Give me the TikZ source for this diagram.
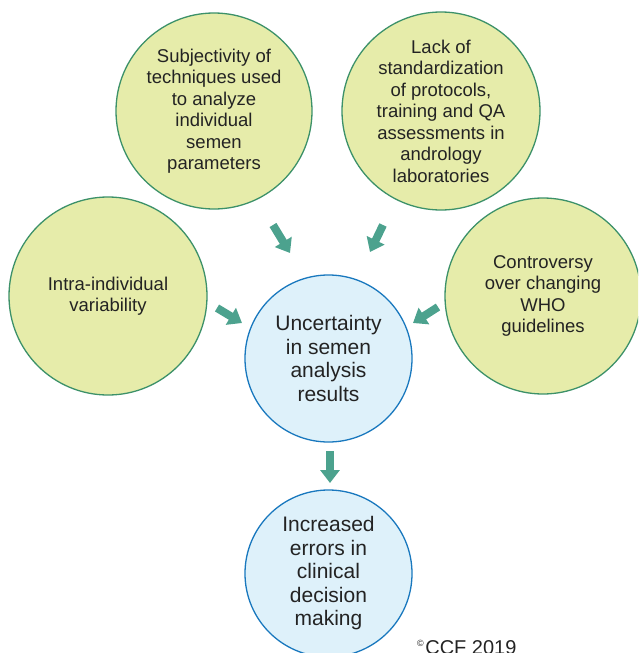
\documentclass[tikz,border=0pt]{standalone}
\usepackage{fontspec}
\setmainfont{Liberation Sans}
\usetikzlibrary{arrows.meta}
\definecolor{gfill}{RGB}{230,236,170}
\definecolor{gline}{RGB}{60,145,105}
\definecolor{bfill}{RGB}{222,241,250}
\definecolor{bline}{RGB}{25,120,190}
\definecolor{arrcol}{RGB}{76,162,142}
\definecolor{txt}{RGB}{35,35,35}
\begin{document}
\begin{tikzpicture}[x=1pt,y=-1pt,
  gcirc/.style={circle, draw=gline, fill=gfill, line width=1.3pt, inner sep=0pt,
    minimum size=#1, align=center, text=txt, font=\fontsize{18.5}{21.5}\selectfont},
  bcirc/.style={circle, draw=bline, fill=bfill, line width=1.3pt, inner sep=0pt,
    minimum size=#1, align=center, text=txt, font=\fontsize{21}{23.5}\selectfont},
  fatarrow/.style={draw=arrcol, line width=8pt, -{Triangle[length=13pt,width=19pt,fill=arrcol]}}]
\useasboundingbox (0,0) rectangle (638,653);
\clip (0,0) rectangle (638,653);
\node[gcirc=196] (c1) at (214,111) {Subjectivity of\\techniques used\\to analyze\\individual\\semen\\parameters};
\node[gcirc=198] (c2) at (441,111) {Lack of\\standardization\\of protocols,\\training and QA\\assessments in\\andrology\\laboratories};
\node[gcirc=198] (c3) at (108,296) {Intra-individual\\variability};
\node[gcirc=196] (c4) at (543,296) {Controversy\\over changing\\WHO\\guidelines};
\node[bcirc=167] (c5) at (328.5,358.5) {Uncertainty\\in semen\\analysis\\results};
\node[bcirc=167] (c6) at (328.5,573.5) {Increased\\errors in\\clinical\\decision\\making};
\coordinate (a1s) at (273,225); \coordinate (a1e) at (290,253);
\coordinate (a2s) at (383,225); \coordinate (a2e) at (370,252);
\coordinate (a3s) at (217,308); \coordinate (a3e) at (242,323);
\coordinate (a4s) at (438,307); \coordinate (a4e) at (413,323);
\coordinate (a5s) at (330,451); \coordinate (a5e) at (330,483);
\draw[fatarrow] (a1s) -- (a1e);
\draw[fatarrow] (a2s) -- (a2e);
\draw[fatarrow] (a3s) -- (a3e);
\draw[fatarrow] (a4s) -- (a4e);
\draw[fatarrow] (a5s) -- (a5e);
\node[anchor=base west, inner sep=0pt, text=txt, font=\fontsize{20}{22}\selectfont] (cr) at (417,654) {\textsuperscript{\fontsize{9}{9}\selectfont ©}\kern1pt CCF 2019};
\end{tikzpicture}
\end{document}
